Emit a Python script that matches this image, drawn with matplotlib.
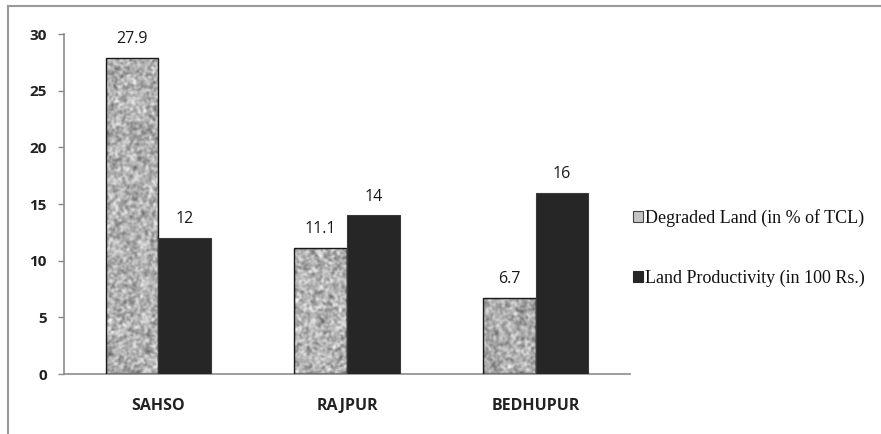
import numpy as np
import matplotlib
matplotlib.use("Agg")
import matplotlib.pyplot as plt
from matplotlib.patches import Rectangle
from matplotlib.lines import Line2D

# Data
villages = ["SAHSO", "RAJPUR", "BEDHUPUR"]
degraded_land = [27.9, 11.1, 6.7]          # % of total cultivated land
land_productivity = [12, 14, 16]           # in 100 Rs.
degraded_labels = ["27.9", "11.1", "6.7"]
productivity_labels = ["12", "14", "16"]
y_ticks = [0, 5, 10, 15, 20, 25, 30]
legend_labels = ["Degraded Land (in % of TCL)", "Land Productivity (in 100 Rs.)"]

W, H = 881, 434
fig = plt.figure(figsize=(W / 100, H / 100), dpi=100)
fig.patch.set_facecolor("white")

ax = fig.add_axes([64 / W, 1 - 374 / H, (630 - 64) / W, (374 - 34) / H])

x = np.arange(len(villages))
bw = 0.28

# Granite-like texture for the degraded-land bars
def smooth_noise(h, w, seed):
    rng = np.random.default_rng(seed)
    n = rng.random((h, w))
    k = np.array([1, 3, 5, 3, 1], dtype=float)
    k /= k.sum()
    n = np.apply_along_axis(lambda r: np.convolve(r, k, mode="same"), 1, n)
    n = np.apply_along_axis(lambda c: np.convolve(c, k, mode="same"), 0, n)
    n = (n - n.min()) / (n.max() - n.min())
    return n

bars1 = ax.bar(x - bw / 2, degraded_land, bw, facecolor="none",
               edgecolor="#1a1a1a", linewidth=1.0, zorder=3)
for i, b in enumerate(bars1):
    x0, y0 = b.get_x(), b.get_y()
    bwid, bh = b.get_width(), b.get_height()
    hpx = max(int(bh / 30 * 340), 4)
    tex = smooth_noise(hpx, 54, seed=7 + i)
    im = ax.imshow(tex, cmap="gray", vmin=-0.5, vmax=1.05, aspect="auto",
                   extent=(x0, x0 + bwid, y0, y0 + bh), zorder=2,
                   interpolation="bilinear")
    clip = Rectangle((x0, y0), bwid, bh, transform=ax.transData)
    im.set_clip_path(clip)

bars2 = ax.bar(x + bw / 2, land_productivity, bw, color="#262626",
               edgecolor="#3a3a3a", linewidth=0.8, zorder=3)

label_font = dict(family="Open Sans", fontsize=11.5, color="#1a1a1a")
for b, t in zip(bars1, degraded_labels):
    ax.text(b.get_x() + b.get_width() / 2, b.get_height() + 0.95, t,
            ha="center", va="bottom", **label_font)
for b, t in zip(bars2, productivity_labels):
    ax.text(b.get_x() + b.get_width() / 2, b.get_height() + 0.95, t,
            ha="center", va="bottom", **label_font)

ax.set_xlim(-0.5, 2.5)
ax.set_ylim(0, 30)
ax.set_yticks(y_ticks)
ax.set_yticklabels([str(v) for v in y_ticks], fontweight="bold",
                   family="Open Sans", fontsize=11, color="#222222")
ax.set_xticks(x)
ax.set_xticklabels(villages, fontweight="bold", family="Open Sans",
                   fontsize=11.5, color="#222222")
ax.tick_params(axis="y", direction="out", length=4.3, width=1, color="#888888", pad=8)
ax.tick_params(axis="x", length=0, pad=17)

for s in ["top", "right"]:
    ax.spines[s].set_visible(False)
for s in ["left", "bottom"]:
    ax.spines[s].set_color("#8c8c8c")
    ax.spines[s].set_linewidth(1.2)

# Legend
handles = [
    Rectangle((0, 0), 1, 1, facecolor="#c4c4c4", edgecolor="#444444", linewidth=0.8),
    Rectangle((0, 0), 1, 1, facecolor="#262626", edgecolor="#262626", linewidth=0.8),
]
leg = fig.legend(handles, legend_labels, loc="center left",
                 bbox_to_anchor=(624 / W, 1 - 248 / H), frameon=False,
                 prop=dict(family="Liberation Serif", size=13),
                 handlelength=0.57, handleheight=0.57, handletextpad=0.1,
                 labelspacing=2.4, borderpad=0)
for t in leg.get_texts():
    t.set_color("#111111")

# Outer chart frame
fig.add_artist(Line2D([8 / W, 1], [1 - 6 / H, 1 - 6 / H], transform=fig.transFigure,
                      color="#9a9a9a", linewidth=1.5))
fig.add_artist(Line2D([8 / W, 8 / W], [0, 1 - 6 / H], transform=fig.transFigure,
                      color="#9a9a9a", linewidth=1.5))

fig.savefig("out.png", dpi=100, facecolor="white")
